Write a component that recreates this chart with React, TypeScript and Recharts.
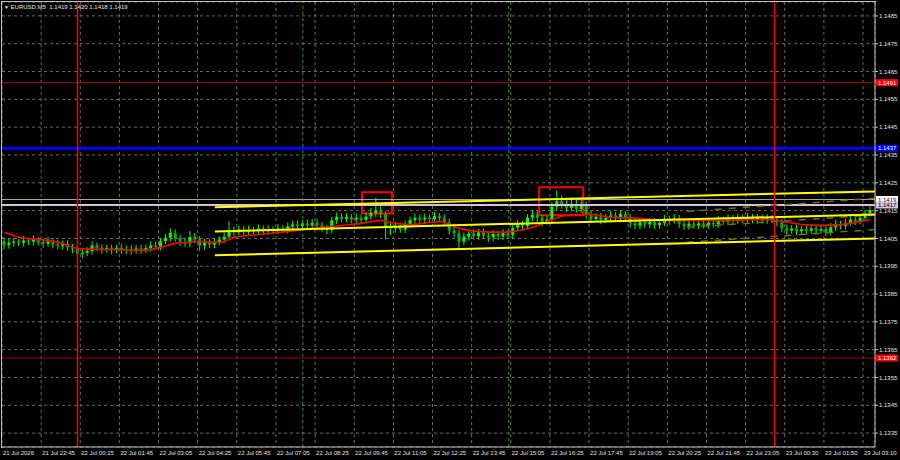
import React from "react";
import {
  ComposedChart,
  Bar,
  Line,
  XAxis,
  YAxis,
  CartesianGrid,
  ReferenceLine,
  ReferenceArea,
} from "recharts";

const FONT = '"Liberation Sans", Arial, sans-serif';

// 10-minute candles, EURUSD
const opens = [
  1.1404, 1.14026, 1.14035, 1.14039, 1.14034, 1.14042, 1.14038, 1.14045, 1.14036, 1.14031,
  1.14039, 1.14028, 1.14024, 1.1403, 1.14018, 1.14012, 1.13994, 1.13998, 1.14005, 1.14024,
  1.14016, 1.1401, 1.14015, 1.14008, 1.14016, 1.14009, 1.14012, 1.14006, 1.14014, 1.14009,
  1.14015, 1.14025, 1.1402, 1.1404, 1.14052, 1.1407, 1.1405, 1.14038, 1.14032, 1.14055,
  1.14046, 1.14024, 1.14035, 1.14028, 1.14036, 1.14046, 1.14056, 1.14078, 1.14072, 1.14083,
  1.14076, 1.14081, 1.14079, 1.14085, 1.14077, 1.14082, 1.14078, 1.14086, 1.1408, 1.14093,
  1.141, 1.14094, 1.14104, 1.14097, 1.14106, 1.14098, 1.14086, 1.1408, 1.14115, 1.14128,
  1.1412, 1.14126, 1.14118, 1.14124, 1.14116, 1.14129, 1.14142, 1.1415, 1.14136, 1.1409,
  1.14086, 1.14096, 1.14082, 1.14099, 1.14116, 1.14124, 1.14118, 1.14125, 1.14119, 1.1413,
  1.14124, 1.14108, 1.14078, 1.14068, 1.14038, 1.14056, 1.14068, 1.14059, 1.14072, 1.1406,
  1.14054, 1.14066, 1.14057, 1.14069, 1.14062, 1.14088, 1.14102, 1.14094, 1.14125, 1.14136,
  1.14124, 1.1411, 1.14118, 1.14164, 1.14184, 1.14172, 1.1416, 1.14174, 1.14156, 1.1417,
  1.14134, 1.1412, 1.14128, 1.14116, 1.14125, 1.14132, 1.14122, 1.14138, 1.14126, 1.14104,
  1.14096, 1.14108, 1.141, 1.14109, 1.14098, 1.14106, 1.1412, 1.14114, 1.14123, 1.14102,
  1.14094, 1.14103, 1.14096, 1.14104, 1.14098, 1.14106, 1.14101, 1.14116, 1.1411, 1.14122,
  1.14115, 1.14124, 1.14118, 1.14126, 1.14116, 1.14123, 1.14115, 1.14122, 1.14117, 1.14108,
  1.14086, 1.14078, 1.14085, 1.14076, 1.14083, 1.14077, 1.14086, 1.14078, 1.14084, 1.14072,
  1.1409, 1.14102, 1.14095, 1.14106, 1.14118, 1.14112, 1.14124, 1.1414,
];

const highs = [
  1.14054, 1.1405, 1.14053, 1.14049, 1.14059, 1.14052, 1.14061, 1.14054, 1.14048, 1.14056,
  1.1405, 1.14044, 1.14042, 1.14043, 1.1403, 1.14026, 1.14012, 1.14018, 1.14039, 1.14035,
  1.14029, 1.14026, 1.14028, 1.14027, 1.14029, 1.14024, 1.14025, 1.14026, 1.14027, 1.14028,
  1.14039, 1.14037, 1.14052, 1.14067, 1.14086, 1.14082, 1.14063, 1.14052, 1.14076, 1.14069,
  1.14058, 1.14049, 1.14046, 1.1405, 1.14058, 1.14071, 1.14112, 1.14093, 1.14096, 1.14094,
  1.14096, 1.14092, 1.141, 1.14096, 1.14097, 1.14093, 1.14101, 1.14097, 1.14107, 1.14113,
  1.14114, 1.14116, 1.14118, 1.14119, 1.1412, 1.14109, 1.14099, 1.14128, 1.14143, 1.1414,
  1.14141, 1.14137, 1.14139, 1.14135, 1.14144, 1.14159, 1.14196, 1.14166, 1.14147, 1.14107,
  1.14111, 1.14107, 1.14114, 1.14129, 1.1414, 1.14135, 1.1414, 1.14136, 1.14145, 1.14141,
  1.14136, 1.1412, 1.14093, 1.1408, 1.14071, 1.14082, 1.14082, 1.14085, 1.14086, 1.14072,
  1.14081, 1.14078, 1.14084, 1.1408, 1.14101, 1.14117, 1.14113, 1.14138, 1.14151, 1.14147,
  1.14136, 1.14133, 1.14179, 1.14223, 1.14204, 1.14187, 1.14198, 1.14189, 1.14194, 1.14182,
  1.14148, 1.14141, 1.14142, 1.14138, 1.14147, 1.14144, 1.14151, 1.1415, 1.14138, 1.14119,
  1.14121, 1.14122, 1.14122, 1.14123, 1.14119, 1.14135, 1.14132, 1.14138, 1.14134, 1.14116,
  1.14118, 1.14115, 1.14119, 1.14116, 1.14121, 1.14118, 1.14131, 1.14128, 1.14137, 1.14134,
  1.14139, 1.14136, 1.14141, 1.14138, 1.14138, 1.14135, 1.14137, 1.14134, 1.14129, 1.1412,
  1.141, 1.14098, 1.14099, 1.14096, 1.14097, 1.14101, 1.14098, 1.14099, 1.14096, 1.14105,
  1.14117, 1.14114, 1.14121, 1.14131, 1.14132, 1.14137, 1.14153, 1.14168,
];

const lows = [
  1.1401, 1.14013, 1.1402, 1.14022, 1.14021, 1.14026, 1.14024, 1.14024, 1.14016, 1.1402,
  1.14014, 1.14011, 1.1401, 1.14005, 1.13997, 1.13978, 1.13979, 1.13986, 1.13992, 1.14004,
  1.13995, 1.13998, 1.13993, 1.13997, 1.13994, 1.13994, 1.13991, 1.13995, 1.13995, 1.13998,
  1.14002, 1.14008, 1.14007, 1.14029, 1.14039, 1.14038, 1.14023, 1.1402, 1.14019, 1.14033,
  1.14005, 1.1401, 1.14015, 1.14015, 1.14025, 1.14032, 1.14045, 1.14057, 1.14061, 1.14061,
  1.14062, 1.14066, 1.14066, 1.14064, 1.14064, 1.14065, 1.14065, 1.14068, 1.14067, 1.14081,
  1.1408, 1.14083, 1.14082, 1.14086, 1.14084, 1.14074, 1.14065, 1.14069, 1.14101, 1.14107,
  1.14107, 1.14105, 1.14104, 1.14103, 1.14103, 1.14117, 1.14127, 1.14123, 1.14046, 1.14061,
  1.14071, 1.1407, 1.14069, 1.14087, 1.14102, 1.14105, 1.14104, 1.14107, 1.14106, 1.14111,
  1.14093, 1.14065, 1.14053, 1.14016, 1.14026, 1.14042, 1.14046, 1.14046, 1.14048, 1.14037,
  1.14041, 1.14044, 1.14044, 1.14049, 1.14049, 1.14076, 1.14079, 1.14083, 1.14111, 1.14109,
  1.14095, 1.14099, 1.14105, 1.14151, 1.14157, 1.14145, 1.14147, 1.14143, 1.14142, 1.14121,
  1.14105, 1.14109, 1.14101, 1.14105, 1.14111, 1.1411, 1.14109, 1.14114, 1.14089, 1.14083,
  1.14083, 1.14087, 1.14087, 1.14085, 1.14085, 1.14095, 1.14099, 1.14103, 1.14088, 1.14081,
  1.14081, 1.14084, 1.14083, 1.14086, 1.14085, 1.14089, 1.14088, 1.14098, 1.14097, 1.14103,
  1.14102, 1.14106, 1.14105, 1.14104, 1.14103, 1.14103, 1.14102, 1.14105, 1.14094, 1.14073,
  1.14063, 1.14067, 1.14062, 1.14065, 1.14063, 1.14066, 1.14064, 1.14067, 1.14058, 1.14061,
  1.14077, 1.14083, 1.14082, 1.14095, 1.14098, 1.14101, 1.14111, 1.14129,
];

const closes = [
  1.14026, 1.14035, 1.14039, 1.14034, 1.14042, 1.14038, 1.14045, 1.14036, 1.14031, 1.14039,
  1.14028, 1.14024, 1.1403, 1.14018, 1.14012, 1.13994, 1.13998, 1.14005, 1.14024, 1.14016,
  1.1401, 1.14015, 1.14008, 1.14016, 1.14009, 1.14012, 1.14006, 1.14014, 1.14009, 1.14015,
  1.14025, 1.1402, 1.1404, 1.14052, 1.1407, 1.1405, 1.14038, 1.14032, 1.14055, 1.14046,
  1.14024, 1.14035, 1.14028, 1.14036, 1.14046, 1.14056, 1.14078, 1.14072, 1.14083, 1.14076,
  1.14081, 1.14079, 1.14085, 1.14077, 1.14082, 1.14078, 1.14086, 1.1408, 1.14093, 1.141,
  1.14094, 1.14104, 1.14097, 1.14106, 1.14098, 1.14086, 1.1408, 1.14115, 1.14128, 1.1412,
  1.14126, 1.14118, 1.14124, 1.14116, 1.14129, 1.14142, 1.1415, 1.14136, 1.1409, 1.14086,
  1.14096, 1.14082, 1.14099, 1.14116, 1.14124, 1.14118, 1.14125, 1.14119, 1.1413, 1.14124,
  1.14108, 1.14078, 1.14068, 1.14038, 1.14056, 1.14068, 1.14059, 1.14072, 1.1406, 1.14054,
  1.14066, 1.14057, 1.14069, 1.14062, 1.14088, 1.14102, 1.14094, 1.14125, 1.14136, 1.14124,
  1.1411, 1.14118, 1.14164, 1.14184, 1.14172, 1.1416, 1.14174, 1.14156, 1.1417, 1.14134,
  1.1412, 1.14128, 1.14116, 1.14125, 1.14132, 1.14122, 1.14138, 1.14126, 1.14104, 1.14096,
  1.14108, 1.141, 1.14109, 1.14098, 1.14106, 1.1412, 1.14114, 1.14123, 1.14102, 1.14094,
  1.14103, 1.14096, 1.14104, 1.14098, 1.14106, 1.14101, 1.14116, 1.1411, 1.14122, 1.14115,
  1.14124, 1.14118, 1.14126, 1.14116, 1.14123, 1.14115, 1.14122, 1.14117, 1.14108, 1.14086,
  1.14078, 1.14085, 1.14076, 1.14083, 1.14077, 1.14086, 1.14078, 1.14084, 1.14072, 1.1409,
  1.14102, 1.14095, 1.14106, 1.14118, 1.14112, 1.14124, 1.1414, 1.14152,
];

// moving average, read at a few candles
const maIndex = [
  0, 3, 7, 11, 15, 20, 24, 28, 32, 35, 38, 40, 42, 44, 47, 52, 58, 63, 69, 73, 77, 80,
  83, 89, 93, 97, 102, 104, 108, 112, 115, 120, 124, 130, 134, 138, 147, 155, 159, 163,
  167, 171, 175, 177,
];
const maValues = [
  1.14072, 1.14054, 1.14046, 1.14036, 1.14014, 1.1401, 1.1401, 1.14007, 1.14018, 1.14032,
  1.14036, 1.1404, 1.14036, 1.14036, 1.14054, 1.14064, 1.14075, 1.14086, 1.14097, 1.14104,
  1.14115, 1.14104, 1.141, 1.14111, 1.14086, 1.14075, 1.14072, 1.14075, 1.1409, 1.14118,
  1.14133, 1.14136, 1.14126, 1.14122, 1.14115, 1.14115, 1.14115, 1.14118, 1.14111, 1.141,
  1.14097, 1.141, 1.14111, 1.14118,
];

const timeTicks = [
  -0.5, 7.5, 15.5, 23.5, 31.5, 39.5, 47.5, 55.5, 63.5, 71.5, 79.5, 87.5, 95.5, 103.5,
  111.5, 119.5, 127.5, 135.5, 143.5, 151.5, 159.5, 167.5, 175.5,
];
const timeLabels = [
  "21 Jul 2026", "21 Jul 22:45", "22 Jul 00:15", "22 Jul 01:45", "22 Jul 03:05",
  "22 Jul 04:25", "22 Jul 05:45", "22 Jul 07:05", "22 Jul 08:25", "22 Jul 09:45",
  "22 Jul 11:05", "22 Jul 12:25", "22 Jul 13:45", "22 Jul 15:05", "22 Jul 16:25",
  "22 Jul 17:45", "22 Jul 19:05", "22 Jul 20:25", "22 Jul 21:45", "22 Jul 23:05",
  "23 Jul 00:30", "23 Jul 01:50", "23 Jul 03:10",
];

const priceTicks = [
  1.1335, 1.1345, 1.1355, 1.1365, 1.1375, 1.1385, 1.1395, 1.1405, 1.1415, 1.1425, 1.1435,
  1.1445, 1.1455, 1.1465, 1.1475, 1.1485,
];

// levels and drawn objects
const dayBreaks = [14.93, 157.4];
const greenMarks = [61.0, 103.1];
const channelX = [43.0, 177.95];
const channelUpper = [1.14162, 1.14219];
const channelMid = [1.14075, 1.14136];
const channelLower = [1.13989, 1.1405];
const dashX = [139.5, 177.95];
const dashUpper = [1.14147, 1.14194];
const dashMid = [1.1409, 1.14134];
const dashLower = [1.14036, 1.14082];
const boxes = [
  { x1: 73.1, x2: 79.2, y1: 1.1414, y2: 1.14216 },
  { x1: 109.3, x2: 118.3, y1: 1.14133, y2: 1.14234 },
];

const rows = closes.map((c, i) => ({
  i,
  o: opens[i],
  h: highs[i],
  l: lows[i],
  c,
  range: [lows[i], highs[i]],
  ma: null as number | null,
}));
maIndex.forEach((idx, k) => {
  rows[idx].ma = maValues[k];
});

function Candle(props: any) {
  const { x, y, width, height, payload } = props;
  if (!payload || height == null || isNaN(y)) return null;
  const { o, h, l, c } = payload;
  const top = Math.min(y, y + height);
  const full = Math.abs(height);
  const k = full / (h - l);
  const cx = x + width / 2;
  const bodyTop = top + (h - Math.max(o, c)) * k;
  const bodyH = Math.max(1, Math.abs(c - o) * k);
  const up = c >= o;
  return (
    <g>
      <line x1={cx} x2={cx} y1={top} y2={top + full} stroke="#00ff00" strokeWidth={1} />
      <rect x={cx - 1.5} y={bodyTop} width={3} height={bodyH} fill={up ? "#00ff00" : "#14a814"} />
    </g>
  );
}

function TimeTick(props: any) {
  const { x, y, index } = props;
  return (
    <text x={x + 1} y={y + 8} fontSize={6} fill="#e0e0e0" fontFamily={FONT} textAnchor="start">
      {timeLabels[index] ?? ""}
    </text>
  );
}

const priceTag = (text: string, bg: string, fg: string) => (props: any) => {
  const vb = props.viewBox;
  if (!vb) return null;
  const x = vb.x + vb.width + 1;
  const y = vb.y;
  return (
    <g>
      <rect x={x} y={y - 3.5} width={22} height={7} fill={bg} />
      <text x={x + 2} y={y + 2.2} fontSize={6} fill={fg} fontFamily={FONT}>
        {text}
      </text>
    </g>
  );
};

export default function App() {
  return (
    <div
      style={{
        position: "fixed",
        left: 0,
        top: 0,
        width: 900,
        height: 460,
        background: "#000000",
        overflow: "hidden",
      }}
    >
      <ComposedChart
        width={900}
        height={460}
        data={rows}
        margin={{ top: 2, right: 0, left: 2, bottom: 0 }}
      >
        <CartesianGrid stroke="#6a6a6a" strokeDasharray="3 3" />
        <XAxis
          dataKey="i"
          type="number"
          domain={[-0.5, 177.95]}
          allowDataOverflow
          ticks={timeTicks}
          interval={0}
          height={13}
          tickSize={0}
          tickMargin={0}
          tickLine={false}
          axisLine={{ stroke: "#c0c0c0" }}
          tick={<TimeTick />}
        />
        <YAxis
          orientation="right"
          type="number"
          domain={[1.133, 1.149]}
          allowDataOverflow
          ticks={priceTicks}
          interval={0}
          width={25}
          tickSize={3}
          tickMargin={1}
          axisLine={{ stroke: "#c0c0c0" }}
          tickLine={{ stroke: "#c0c0c0" }}
          tick={{ fill: "#e0e0e0", fontSize: 6, fontFamily: FONT }}
          tickFormatter={(v: number) => v.toFixed(4)}
        />

        <ReferenceLine y={1.1461} stroke="#990000" strokeWidth={1} label={priceTag("1.1461", "#ff0000", "#ffffff")} />
        <ReferenceLine y={1.14374} stroke="#0000ff" strokeWidth={3} label={priceTag("1.1437", "#0000ff", "#ffffff")} />
        <ReferenceLine y={1.1362} stroke="#990000" strokeWidth={1} label={priceTag("1.1362", "#ff0000", "#ffffff")} />
        <ReferenceLine y={1.1419} stroke="#a8a8a8" strokeWidth={1} label={priceTag("1.1419", "#ffffff", "#000000")} />
        <ReferenceLine y={1.1417} stroke="#d8c0d8" strokeWidth={2} label={priceTag("1.1417", "#d8c0d8", "#000000")} />

        {greenMarks.map((gx) => (
          <ReferenceLine key={gx} x={gx} stroke="#2f9a2f" strokeDasharray="3 3" />
        ))}

        <Bar dataKey="range" barSize={4} isAnimationActive={false} shape={(p: any) => <Candle {...p} />} />

        <Line
          dataKey="ma"
          type="monotone"
          stroke="#ff0000"
          strokeWidth={1.6}
          dot={false}
          connectNulls
          isAnimationActive={false}
        />

        {[dashUpper, dashMid, dashLower].map((d, k) => (
          <ReferenceLine
            key={"d" + k}
            segment={[
              { x: dashX[0], y: d[0] },
              { x: dashX[1], y: d[1] },
            ]}
            stroke="#727200"
            strokeWidth={1.5}
            strokeDasharray="7 7"
            ifOverflow="visible"
          />
        ))}
        {[channelUpper, channelMid, channelLower].map((d, k) => (
          <ReferenceLine
            key={"c" + k}
            segment={[
              { x: channelX[0], y: d[0] },
              { x: channelX[1], y: d[1] },
            ]}
            stroke="#ffff00"
            strokeWidth={2}
            ifOverflow="visible"
          />
        ))}

        {boxes.map((b, k) => (
          <ReferenceArea
            key={"b" + k}
            x1={b.x1}
            x2={b.x2}
            y1={b.y1}
            y2={b.y2}
            fill="none"
            fillOpacity={0}
            stroke="#ff0000"
            strokeWidth={2}
            ifOverflow="visible"
          />
        ))}

        {dayBreaks.map((dx) => (
          <ReferenceLine key={dx} x={dx} stroke="#ff0000" strokeWidth={1.5} />
        ))}
      </ComposedChart>

      <div
        style={{
          position: "absolute",
          left: 1,
          top: 1,
          width: 874,
          height: 446,
          borderLeft: "1px solid #c0c0c0",
          borderTop: "1px solid #c0c0c0",
          pointerEvents: "none",
        }}
      />
      <div
        style={{
          position: "absolute",
          left: 4,
          top: 3,
          fontFamily: FONT,
          fontSize: 6,
          color: "#e8e8e8",
          whiteSpace: "pre",
          lineHeight: "8px",
        }}
      >
        <span style={{ fontSize: 5 }}>▼</span> EURUSD,M5  1.1419 1.1420 1.1418 1.1419
      </div>
    </div>
  );
}
